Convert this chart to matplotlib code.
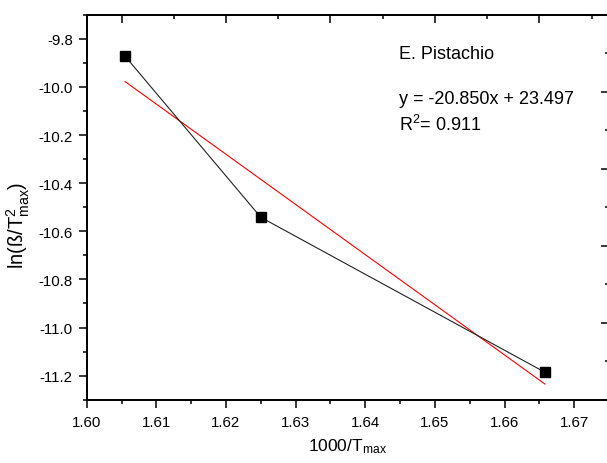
import matplotlib
matplotlib.use("Agg")
import matplotlib.pyplot as plt
import numpy as np
from matplotlib.ticker import MultipleLocator, FixedLocator, NullFormatter

# Data
x_vals = [1.6055, 1.6250, 1.6658]
y_vals = [-9.872, -10.542, -11.186]
fit_slope = -20.850
fit_intercept = 23.497
title_text = "E. Pistachio"
eq_text = "y = -20.850x + 23.497"
r2_text = "R$^2$= 0.911"

plt.rcParams['font.family'] = ['Liberation Sans', 'DejaVu Sans']
plt.rcParams['mathtext.fontset'] = 'custom'
plt.rcParams['mathtext.rm'] = 'Liberation Sans'
plt.rcParams['mathtext.it'] = 'Liberation Sans:italic'
plt.rcParams['mathtext.bf'] = 'Liberation Sans:bold'

W, H = 607, 464
fig = plt.figure(figsize=(W / 100, H / 100), dpi=100)
ax = fig.add_axes([86.7 / W, 1 - 400.7 / H, (609 - 86.7) / W, (400.7 - 15.7) / H])

ax.plot(x_vals, y_vals, color='#222222', lw=0.8, marker='s', ms=6.6,
        mfc='black', mec='black', zorder=3)
fx = np.array([x_vals[0], x_vals[-1]])
ax.plot(fx, fit_slope * fx + fit_intercept, color='red', lw=0.8, zorder=2)

ax.set_xlim(1.60, 1.675)
ax.set_ylim(-11.3, -9.7)

ax.xaxis.set_major_locator(MultipleLocator(0.01))
ax.xaxis.set_minor_locator(MultipleLocator(0.005))
ax.yaxis.set_major_locator(MultipleLocator(0.2))
ax.yaxis.set_minor_locator(MultipleLocator(0.1))
ax.xaxis.set_major_formatter(matplotlib.ticker.FormatStrFormatter('%.2f'))
ax.yaxis.set_major_formatter(matplotlib.ticker.FormatStrFormatter('%.1f'))

ax.tick_params(which='major', direction='out', length=6, width=1.1,
               labelsize=10.8, pad=4)
ax.tick_params(which='minor', direction='out', length=3.2, width=1.1)
ax.tick_params(axis='x', which='major', pad=5)

for s in ax.spines.values():
    s.set_linewidth(1.1)

# Top axis ticks (inward, no labels)
axt = ax.twiny()
axt.set_xlim(1.60, 1.675)
axt.xaxis.set_major_locator(MultipleLocator(0.015))
axt.xaxis.set_minor_locator(MultipleLocator(0.0075))
axt.xaxis.set_major_formatter(NullFormatter())
axt.tick_params(axis='x', which='major', direction='in', length=6, width=1.1)
axt.tick_params(axis='x', which='minor', direction='in', length=3.2, width=1.1)
axt.tick_params(axis='y', left=False, right=False, labelleft=False, labelright=False)

# Right axis ticks (inward, no labels)
axr = ax.twinx()
axr.set_ylim(-11.3, -9.7)
axr.yaxis.set_major_locator(FixedLocator([-11.3 + 0.32 * k for k in range(6)]))
axr.yaxis.set_minor_locator(FixedLocator([-11.14 + 0.32 * k for k in range(5)]))
axr.yaxis.set_major_formatter(NullFormatter())
axr.tick_params(axis='y', which='major', direction='in', length=6, width=1.1)
axr.tick_params(axis='y', which='minor', direction='in', length=3.2, width=1.1)
for a in (axt, axr):
    for s in a.spines.values():
        s.set_linewidth(1.1)

ax.set_xlabel("1000/T$_{\\mathrm{max}}$", fontsize=12.5, labelpad=5)
fig.text(18 / W, 1 - 225 / H, "ln(ß/T$^2_{\\mathrm{max}}$)", fontsize=14.5,
         rotation=90, ha='center', va='center')

fig.text(399 / W, 1 - 59 / H, title_text, fontsize=13, va='baseline', ha='left')
fig.text(399 / W, 1 - 104 / H, eq_text, fontsize=13, va='baseline', ha='left')
fig.text(399 / W, 1 - 131 / H, r2_text, fontsize=13, va='baseline', ha='left')

fig.savefig("out.png", dpi=100)
